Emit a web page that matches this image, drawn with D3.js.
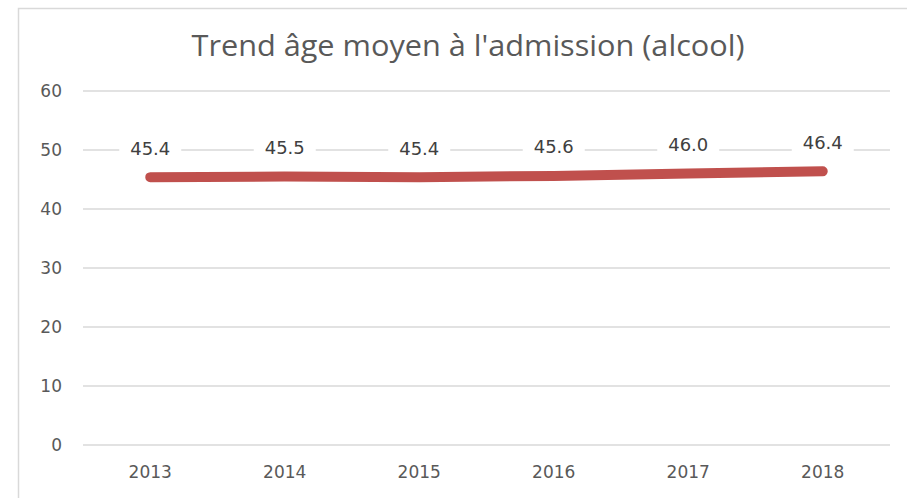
<!DOCTYPE html>
<html>
<head>
<meta charset="utf-8">
<script src="https://cdn.jsdelivr.net/npm/d3@7"></script>
<style>
  body { margin: 0; background: #fff; }
  text { font-family: "DejaVu Sans", sans-serif; fill: #595959; }
</style>
</head>
<body>
<script>
var years = ["2013", "2014", "2015", "2016", "2017", "2018"];
var ages = [45.4, 45.5, 45.4, 45.6, 46.0, 46.4];
var yTicks = [0, 10, 20, 30, 40, 50, 60];
var title = "Trend âge moyen à l'admission (alcool)";

var width = 907, height = 498;
var margin = { top: 91, right: 17, bottom: 53, left: 83 };

var svg = d3.select("body").append("svg")
    .attr("width", width)
    .attr("height", height);

// chart area border
svg.append("rect")
    .attr("x", 18.5)
    .attr("y", 8.5)
    .attr("width", 920)
    .attr("height", 520)
    .attr("fill", "white")
    .attr("stroke", "#d9d9d9")
    .attr("stroke-width", 1.5);

var x = d3.scaleBand()
    .domain(years)
    .range([margin.left, width - margin.right]);

var y = d3.scaleLinear()
    .domain([0, 60])
    .range([height - margin.bottom, margin.top]);

// gridlines
svg.append("g")
    .selectAll("line")
    .data(yTicks)
    .enter().append("line")
      .attr("x1", margin.left)
      .attr("x2", width - margin.right)
      .attr("y1", function(d) { return y(d); })
      .attr("y2", function(d) { return y(d); })
      .attr("stroke", "#d9d9d9")
      .attr("stroke-width", 1.5);

// y axis labels
svg.append("g")
    .selectAll("text")
    .data(yTicks)
    .enter().append("text")
      .attr("x", 62)
      .attr("y", function(d) { return y(d); })
      .attr("dy", "0.36em")
      .attr("text-anchor", "end")
      .style("font-size", "17px")
      .text(function(d) { return d; });

// x axis labels
svg.append("g")
    .selectAll("text")
    .data(years)
    .enter().append("text")
      .attr("x", function(d) { return x(d) + x.bandwidth() / 2; })
      .attr("y", 478)
      .attr("text-anchor", "middle")
      .style("font-size", "17px")
      .text(function(d) { return d; });

// line
var line = d3.line()
    .x(function(d, i) { return x(years[i]) + x.bandwidth() / 2; })
    .y(function(d) { return y(d); });

svg.append("path")
    .datum(ages)
    .attr("d", line)
    .attr("fill", "none")
    .attr("stroke", "#c0504d")
    .attr("stroke-width", 10)
    .attr("stroke-linecap", "round")
    .attr("stroke-linejoin", "round");

// data labels
var labels = svg.append("g")
    .selectAll("g")
    .data(ages)
    .enter().append("g")
      .attr("transform", function(d, i) {
        return "translate(" + (x(years[i]) + x.bandwidth() / 2) + "," + (y(d) - 29) + ")";
      });

labels.append("rect")
    .attr("x", -31)
    .attr("y", -11)
    .attr("width", 62)
    .attr("height", 22)
    .attr("fill", "white");

labels.append("text")
    .attr("text-anchor", "middle")
    .attr("dy", "0.36em")
    .style("font-size", "18px")
    .style("fill", "#404040")
    .text(function(d) { return d.toFixed(1); });

// title
svg.append("text")
    .attr("x", 468)
    .attr("y", 56)
    .attr("text-anchor", "middle")
    .style("font-family", "'Open Sans', sans-serif")
    .style("font-size", "30px")
    .attr("textLength", 553)
    .attr("lengthAdjust", "spacingAndGlyphs")
    .text(title);
</script>
</body>
</html>
